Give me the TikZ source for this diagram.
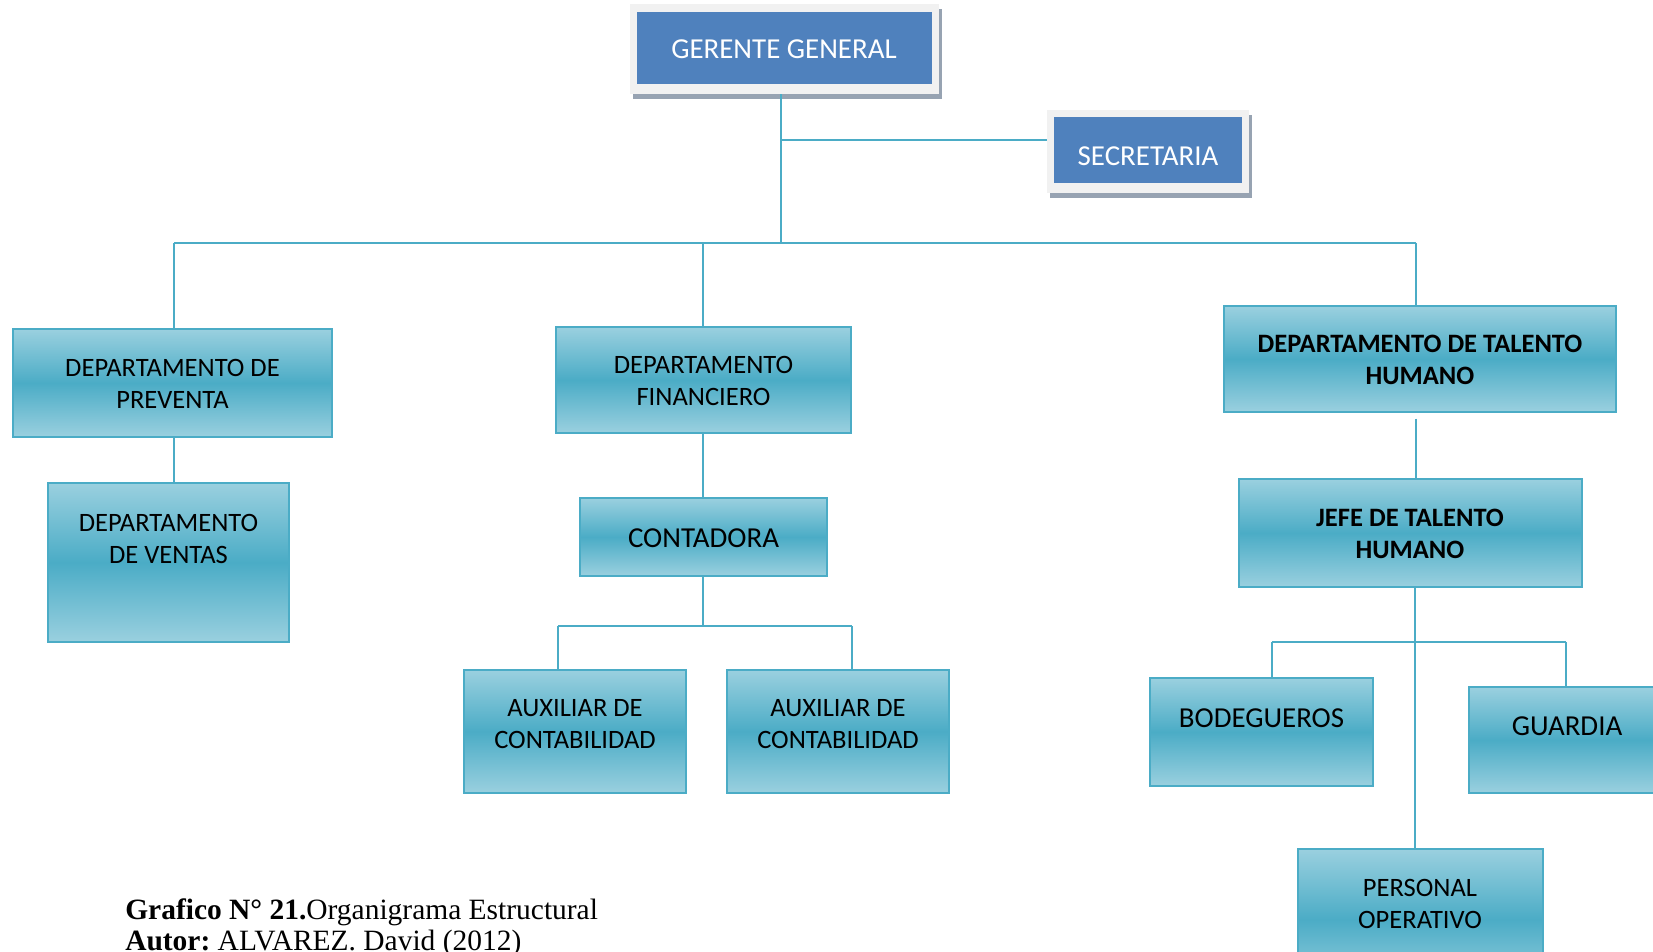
\documentclass[tikz,border=0pt]{standalone}
\usepackage{fontspec}
\setmainfont{Liberation Serif}
\newfontfamily\calfont{Carlito}
\usetikzlibrary{fit}
\definecolor{cyanD}{HTML}{4BACC6}
\definecolor{cyanL}{HTML}{9AD0DF}
\definecolor{blueB}{HTML}{4F81BD}
\definecolor{frameG}{HTML}{F1F1F1}
\definecolor{shadowG}{HTML}{97A3B2}
\tikzset{
  box/.style={draw=cyanD, line width=1.8pt, inner sep=0pt, top color=cyanL, bottom color=cyanL, middle color=cyanD},
  conn/.style={draw=cyanD, line width=2pt},
  twoline/.style={font=\calfont\fontsize{19.9}{24}\selectfont, align=center, inner sep=0pt, text=black},
  oneline/.style={font=\calfont\fontsize{21.7}{26}\selectfont, inner sep=0pt, text=black},
  bluetxt/.style={font=\calfont\fontsize{21.7}{26}\selectfont, inner sep=0pt, text=white},
  shadowbox/.style={fill=shadowG, draw=none, inner sep=0pt},
  framebox/.style={fill=frameG, draw=none, inner sep=0pt},
  bluebox/.style={fill=blueB, draw=none, inner sep=0pt},
  caption/.style={font=\fontsize{22.1}{26}\selectfont, inner sep=0pt, anchor=base west}
}
\begin{document}
\begin{tikzpicture}[x=0.75pt,y=-0.75pt]
\useasboundingbox (0,0) rectangle (1653,952);
\clip (0,0) rectangle (1653,952);
\fill[white] (0,0) rectangle (1653,952);

% Gerente general
\node[shadowbox, fit={(633,9) (942,99)}] (ggs) {};
\node[framebox, fit={(630,4) (939,94)}] (ggf) {};
\node[bluebox, fit={(637,12) (932,84)}] (ggb) {};
\node[bluetxt] (ggt) at (784,49) {GERENTE GENERAL};

% Secretaria
\node[shadowbox, fit={(1050,115) (1252,198)}] (secs) {};
\node[framebox, fit={(1047,110) (1249,193)}] (secf) {};
\node[bluebox, fit={(1054,117) (1242,183)}] (secb) {};
\node[bluetxt] (sect) at (1148,156) {SECRETARIA};

% second level
\node[box, fit={(13,329) (332,437)}] (prev) {};
\node[twoline] (prevt) at (172.5,384) {DEPARTAMENTO DE\\PREVENTA};
\node[box, fit={(48,483) (289,642)}] (vent) {};
\node[twoline] (ventt) at (168.5,539) {DEPARTAMENTO\\DE VENTAS};

\node[box, fit={(556,327) (851,433)}] (fin) {};
\node[twoline] (fint) at (703.5,381) {DEPARTAMENTO\\FINANCIERO};
\node[box, fit={(580,498) (827,576)}] (cont) {};
\node[oneline] (contt) at (703.5,538) {CONTADORA};
\node[box, fit={(464,670) (686,793)}] (aux1) {};
\node[twoline] (aux1t) at (575,724) {AUXILIAR DE\\CONTABILIDAD};
\node[box, fit={(727,670) (949,793)}] (aux2) {};
\node[twoline] (aux2t) at (838,724) {AUXILIAR DE\\CONTABILIDAD};

\node[box, fit={(1224,306) (1616,412)}] (tal) {};
\node[twoline, font=\calfont\bfseries\fontsize{19.9}{24}\selectfont] (talt) at (1420,360) {DEPARTAMENTO DE TALENTO\\HUMANO};
\node[box, fit={(1239,479) (1582,587)}] (jefe) {};
\node[twoline, font=\calfont\bfseries\fontsize{19.9}{24}\selectfont] (jefet) at (1410,533.5) {JEFE DE TALENTO\\HUMANO};
\node[box, fit={(1150,678) (1373,786)}] (bod) {};
\node[oneline] (bodt) at (1261.5,718) {BODEGUEROS};
\node[box, fit={(1469,687) (1665,793)}] (gua) {};
\node[oneline] (guat) at (1567,726) {GUARDIA};
\node[box, fit={(1298,849) (1543,990)}] (pers) {};
\node[twoline] (perst) at (1420,904) {PERSONAL\\OPERATIVO};

% junction coordinates
\coordinate (busC) at (781,243);
\coordinate (busL) at (174,243);
\coordinate (busM) at (703,243);
\coordinate (busR) at (1416,243);
\coordinate (secJ) at (781,140);
\coordinate (auxJ) at (703,626);
\coordinate (auxL) at (558,626);
\coordinate (auxR) at (852,626);
\coordinate (opJ) at (1415,642);
\coordinate (opL) at (1272,642);
\coordinate (opR) at (1566,642);

% connectors
\draw[conn] (ggf.south -| busC) -- (busC);
\draw[conn] (secJ) -- (secf.west |- secJ);
\draw[conn] (busL) -- (busR);
\draw[conn] (busL) -- (prev.north -| busL);
\draw[conn] (busM) -- (fin.north -| busM);
\draw[conn] (busR) -- (tal.north -| busR);
\draw[conn] (prev.south -| busL) -- (vent.north -| busL);
\draw[conn] (fin.south -| busM) -- (cont.north -| busM);
\draw[conn] (cont.south -| auxJ) -- (auxJ);
\draw[conn] (auxL) -- (auxR);
\draw[conn] (auxL) -- (aux1.north -| auxL);
\draw[conn] (auxR) -- (aux2.north -| auxR);
\draw[conn] ([yshift=-4pt]tal.south -| busR) -- (jefe.north -| busR);
\draw[conn] (jefe.south -| opJ) -- (pers.north -| opJ);
\draw[conn] (opL) -- (opR);
\draw[conn] (opL) -- (bod.north -| opL);
\draw[conn] (opR) -- (gua.north -| opR);

% caption
\node[caption] (cap1) at (125,919) {\textbf{Grafico N° 21.}Organigrama Estructural};
\node[caption] (cap2) at (125,950) {\textbf{Autor:}~ALVAREZ. David (2012)};
\end{tikzpicture}
\end{document}
